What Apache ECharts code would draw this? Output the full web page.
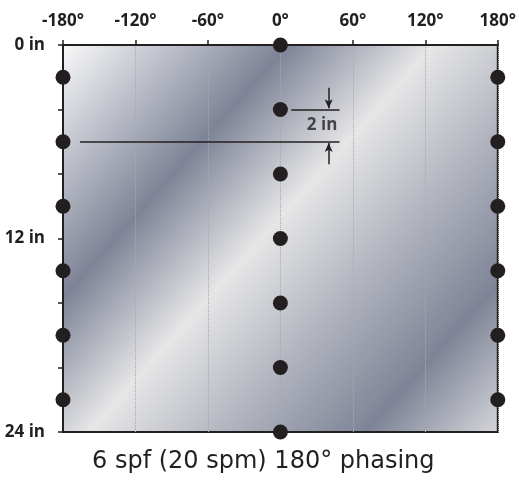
<!DOCTYPE html>
<html>
<head>
<meta charset="utf-8">
<script src="https://cdn.jsdelivr.net/npm/echarts@6/dist/echarts.min.js"></script>
<style>
  html, body { margin: 0; padding: 0; background: #fff; }
  #main { width: 519px; height: 483px; }
</style>
</head>
<body>
<div id="main"></div>
<script>
// phase ticks (degrees) and depth ticks (in)
var phaseTicks = [-180, -120, -60, 0, 60, 120, 180]
var depthLabels = [0, 12, 24]

// dots on the outer edges (-180 / 180) and down the middle (0)
var edgePhases = [-180, 180]
var edgeDepths = [2, 6, 10, 14, 18, 22]
var centerPhase = 0
var centerDepths = [0, 4, 8, 12, 16, 20, 24]

// "2 in" spacing note
var noteUpper = { from: 9, to: 49, depth: 4 }
var noteLower = { from: -166, to: 49, depth: 6 }
var noteArrowPhase = 40
var noteLabel = { phase: 34.5, depth: 5, text: '2 in' }

var dots = []
edgePhases.forEach(function (p) {
  edgeDepths.forEach(function (d) { dots.push([p, d]) })
})
centerDepths.forEach(function (d) { dots.push([centerPhase, d]) })

var ink = '#231f20'
var labelFont = 'Open Sans'

var metal = new echarts.graphic.LinearGradient(0, 0, 1, 1, [
  { offset: 0, color: '#fafafa' },
  { offset: 0.29, color: '#7e8497' },
  { offset: 0.475, color: '#e6e6e7' },
  { offset: 0.64, color: '#b4b7c0' },
  { offset: 0.83, color: '#7e8497' },
  { offset: 1, color: '#d6d7da' }
])

var myChart = echarts.init(document.getElementById('main'))
var option = {
  animation: false,
  title: {
    text: '6 spf (20 spm) 180° phasing',
    left: 87,
    top: 445,
    textStyle: {
      fontFamily: "'DejaVu Sans ExtraLight', 'DejaVu Sans'",
      fontWeight: 'normal',
      fontSize: 24,
      color: ink
    }
  },
  grid: {
    left: 63, right: 21, top: 45, bottom: 51,
    show: true,
    backgroundColor: metal,
    borderColor: ink,
    borderWidth: 2
  },
  xAxis: {
    type: 'value',
    position: 'top',
    min: phaseTicks[0],
    max: phaseTicks[phaseTicks.length - 1],
    interval: 60,
    axisLine: { show: true, onZero: false, lineStyle: { color: ink, width: 2 } },
    axisTick: { show: true, inside: false, length: 5, lineStyle: { color: ink, width: 1.5 } },
    axisLabel: {
      margin: 15,
      color: ink,
      fontFamily: labelFont,
      fontWeight: 'bold',
      fontSize: 17,
      formatter: '{value}°'
    },
    splitLine: { show: true, lineStyle: { color: '#a9a9ad', type: 'dotted', width: 1 } }
  },
  yAxis: {
    type: 'value',
    inverse: true,
    min: 0,
    max: 24,
    interval: 4,
    axisLine: { show: true, onZero: false, lineStyle: { color: ink, width: 2 } },
    axisTick: { show: true, inside: false, length: 5, lineStyle: { color: ink, width: 1.5 } },
    axisLabel: {
      margin: 18,
      color: ink,
      fontFamily: labelFont,
      fontWeight: 'bold',
      fontSize: 17,
      formatter: function (v) { return depthLabels.indexOf(v) > -1 ? v + ' in' : '' }
    },
    splitLine: { show: false }
  },
  series: [
    {
      type: 'scatter',
      data: dots,
      clip: false,
      symbol: 'circle',
      symbolSize: 15,
      itemStyle: { color: ink, opacity: 1 },
      z: 5
    },
    {
      type: 'scatter',
      data: [[noteLabel.phase, noteLabel.depth]],
      symbolSize: 0,
      silent: true,
      label: {
        show: true,
        position: 'inside',
        formatter: noteLabel.text,
        color: ink,
        fontFamily: labelFont,
        fontWeight: 'bold',
        fontSize: 17
      },
      markLine: {
        silent: true,
        animation: false,
        label: { show: false },
        lineStyle: { color: ink, width: 1.5, type: 'solid' },
        data: [
          [
            { coord: [noteUpper.from, noteUpper.depth], symbol: 'none' },
            { coord: [noteUpper.to, noteUpper.depth], symbol: 'none' }
          ],
          [
            { coord: [noteLower.from, noteLower.depth], symbol: 'none' },
            { coord: [noteLower.to, noteLower.depth], symbol: 'none' }
          ],
          [
            { coord: [noteArrowPhase, noteUpper.depth - 1.35], symbol: 'none' },
            { coord: [noteArrowPhase, noteUpper.depth - 0.08], symbol: 'arrow', symbolSize: [6, 9] }
          ],
          [
            { coord: [noteArrowPhase, noteLower.depth + 1.4], symbol: 'none' },
            { coord: [noteArrowPhase, noteLower.depth + 0.08], symbol: 'arrow', symbolSize: [6, 9] }
          ]
        ]
      }
    }
  ]
}
myChart.setOption(option)
</script>
</body>
</html>
